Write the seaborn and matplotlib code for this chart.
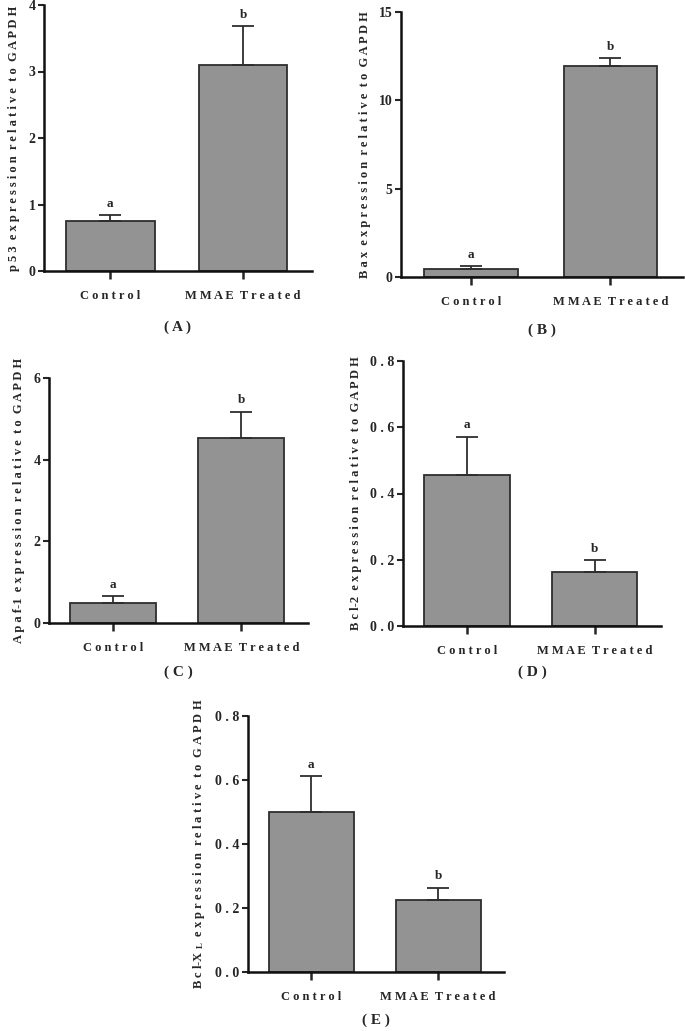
import numpy as np
import pandas as pd
import matplotlib
matplotlib.use("Agg")
import matplotlib.pyplot as plt
import seaborn as sns
from matplotlib.ticker import FuncFormatter

# --- dados ---
groups = ["Control", "MMAE Treated"]

p53_mean = [0.75, 3.10]
p53_err = [0.09, 0.58]

bax_mean = [0.45, 11.97]
bax_err = [0.15, 0.40]

apaf_mean = [0.49, 4.52]
apaf_err = [0.16, 0.65]

bcl2_mean = [0.456, 0.162]
bcl2_err = [0.116, 0.037]

bclxl_mean = [0.501, 0.224]
bclxl_err = [0.111, 0.040]

letters = ["a", "b"]

sns.set_theme(style="ticks")
plt.rcParams['font.family'] = ['Liberation Serif', 'DejaVu Serif']
plt.rcParams['font.weight'] = 'bold'
plt.rcParams['mathtext.default'] = 'regular'

BAR = "#939393"
EDGE = "#2e2e2e"
W, H = 685, 1031


def spaced(s, word_gap="  "):
    # espaçamento entre letras como no original (hífen fica colado)
    out = []
    for w in s.split():
        out.append(" ".join(w).replace(" - ", "-"))
    return word_gap.join(out)


def tick_fmt(decimals):
    if decimals == 0:
        return FuncFormatter(lambda v, p: "%d" % round(v))
    return FuncFormatter(lambda v, p: " ".join("{:.{}f}".format(v, decimals)))


def panel(box, tag_y, means, errs, ymax, step, ylabel, tag, decimals=0):
    x0, y0, x1, y1 = box
    fig = plt.gcf()
    ax = fig.add_axes([x0 / W, 1 - y1 / H, (x1 - x0) / W, (y1 - y0) / H])
    df = pd.DataFrame({"group": groups, "value": means})
    sns.barplot(data=df, x="group", y="value", ax=ax, color=BAR,
                width=0.67, edgecolor=EDGE, linewidth=1.3,
                errorbar=None, saturation=1)
    ax.errorbar([0, 1], means, yerr=[np.zeros(2), errs], fmt="none",
                ecolor=EDGE, elinewidth=1.3, capsize=8, capthick=1.3)
    for i, (m, e) in enumerate(zip(means, errs)):
        ax.annotate(letters[i], (i, m + e), xytext=(0, 4),
                    textcoords="offset points", ha="center", va="bottom",
                    fontsize=9.5, fontweight="bold")
    ax.set_xlim(-0.5, 1.52)
    ax.set_ylim(0, ymax)
    ax.set_yticks(np.arange(0, ymax + step / 2, step))
    ax.yaxis.set_major_formatter(tick_fmt(decimals))
    ax.set_xticks([0, 1])
    ax.set_xticklabels([spaced(g) for g in groups], fontsize=9, fontweight="bold")
    ax.set_xlabel("")
    ax.set_ylabel(ylabel, fontsize=9, fontweight="bold", labelpad=6)
    sns.despine(ax=ax)
    for sp in ["left", "bottom"]:
        ax.spines[sp].set_linewidth(1.8)
        ax.spines[sp].set_color("#111111")
    ax.tick_params(axis="y", direction="out", length=4, width=1.5,
                   labelsize=10, pad=2)
    ax.tick_params(axis="x", direction="out", length=6, width=1.8,
                   labelsize=9, pad=8)
    for t in ax.get_yticklabels():
        t.set_fontweight("bold")
    # rótulo do painel centrado sob o eixo
    fig.text((x0 + x1) / 2 / W, 1 - tag_y / H, tag,
             fontsize=11, fontweight="bold", ha="center", va="center")
    return ax


fig = plt.figure(figsize=(W / 100, H / 100), dpi=100)

panel((44, 5, 312, 271), 327, p53_mean, p53_err, 4, 1,
      spaced("p53 expression relative to GAPDH"), "( A )")
panel((401, 12, 683, 277), 330, bax_mean, bax_err, 15, 5,
      spaced("Bax expression relative to GAPDH"), "( B )")
panel((49, 378, 308, 623), 672, apaf_mean, apaf_err, 6, 2,
      spaced("Apaf-1 expression relative to GAPDH"), "( C )")
panel((403, 361, 661, 626), 672, bcl2_mean, bcl2_err, 0.8, 0.2,
      spaced("Bcl-2 expression relative to GAPDH"), "( D )", decimals=1)
panel((248, 716, 504, 972), 1020, bclxl_mean, bclxl_err, 0.8, 0.2,
      "B c l-X $_{L}$  " + spaced("expression relative to GAPDH"),
      "( E )", decimals=1)

fig.savefig("out.png", dpi=100)
